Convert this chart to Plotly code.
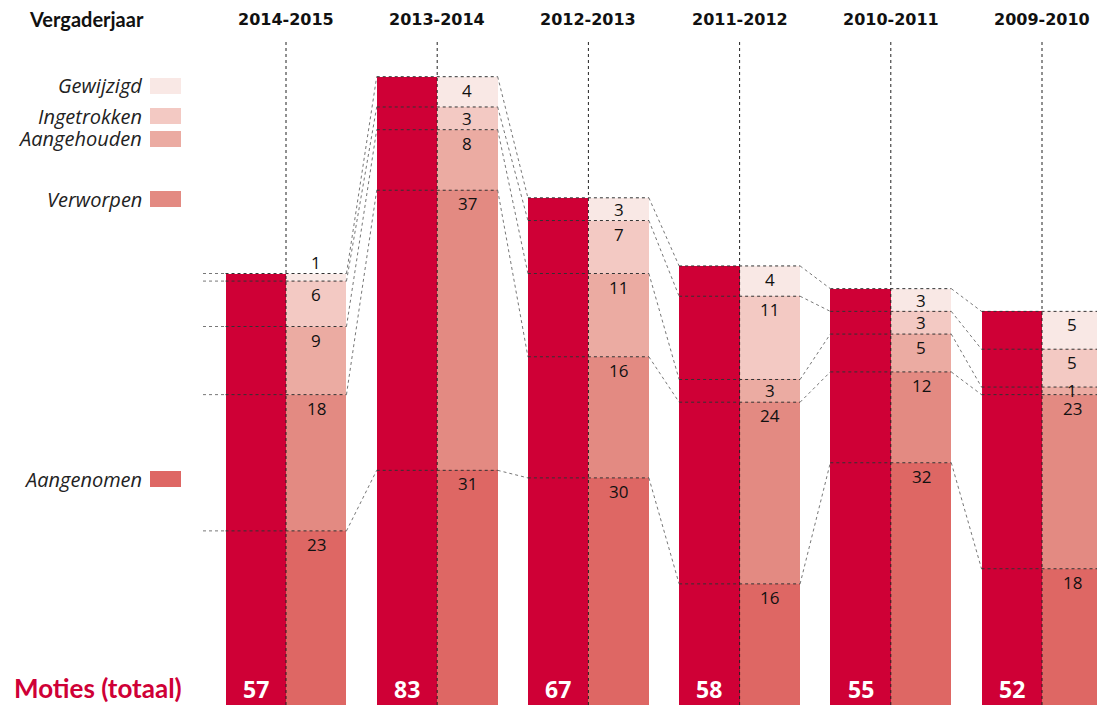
import plotly.graph_objects as go
import numpy as np

# ---------------- data ----------------
years = ["2014-2015", "2013-2014", "2012-2013", "2011-2012", "2010-2011", "2009-2010"]
totaal = [57, 83, 67, 58, 55, 52]
aangenomen = [23, 31, 30, 16, 32, 18]
verworpen = [18, 37, 16, 24, 12, 23]
aangehouden = [9, 8, 11, 3, 5, 1]
ingetrokken = [6, 3, 7, 11, 3, 5]
gewijzigd = [1, 4, 3, 4, 3, 5]
categories = ["Aangenomen", "Verworpen", "Aangehouden", "Ingetrokken", "Gewijzigd"]
series = [aangenomen, verworpen, aangehouden, ingetrokken, gewijzigd]

# ---------------- style ----------------
W, H = 1097, 705
RED = "#CF0036"
seg_colors = ["#DE6764", "#E38A82", "#EBABA2", "#F3C9C3", "#F9E8E5"]
GROUP_PX = 151.2
X0_PX = 286
PX_PER_UNIT = 7.57
BW = 0.4
XR = [-X0_PX / GROUP_PX, (W - X0_PX) / GROUP_PX]
YR = [0, H / PX_PER_UNIT]

def px_x(p):
    return p / W

def px_y(p):
    return 1 - p / H

n = len(years)
xs = np.arange(n)

fig = go.Figure()
fig.add_trace(go.Bar(x=xs - BW / 2, y=totaal, width=BW, marker=dict(color=RED, line=dict(width=0)),
                     hoverinfo="skip", showlegend=False))
for cat, vals, col in zip(categories, series, seg_colors):
    fig.add_trace(go.Bar(x=xs + BW / 2, y=vals, width=BW, name=cat,
                         marker=dict(color=col, line=dict(width=0)),
                         hoverinfo="skip", showlegend=False))

shapes = []
annotations = []
cums = [np.cumsum([s[i] for s in series]) for i in range(n)]

DASH_DARK = "3px,3px"
for i in range(n):
    # vertical dashed centre line
    shapes.append(dict(type="line", xref="x", yref="y", x0=i, x1=i, y0=0,
                       y1=(H - 40) / PX_PER_UNIT, layer="above",
                       line=dict(color="#222", width=1, dash=DASH_DARK)))
    # horizontal dashed boundaries across both bars
    for c in cums[i]:
        shapes.append(dict(type="line", xref="x", yref="y", x0=i - BW, x1=i + BW, y0=c, y1=c,
                           layer="above", line=dict(color="#333", width=1, dash=DASH_DARK)))
    # connectors to next group
    if i < n - 1:
        for c0, c1 in zip(cums[i], cums[i + 1]):
            shapes.append(dict(type="line", xref="x", yref="y", x0=i + BW, x1=i + 1 - BW,
                               y0=c0, y1=c1, layer="above",
                               line=dict(color="#777", width=1, dash=DASH_DARK)))
    # segment labels
    bottom = 0
    for k, s in enumerate(series):
        v = s[i]
        top = bottom + v
        if k == len(series) - 1 and v < 2:
            ly = top + 1.5
        else:
            ly = top - min(1.8, v / 2)
        annotations.append(dict(x=i + BW / 2, y=ly, xref="x", yref="y", text=str(v),
                                showarrow=False, yanchor="middle",
                                font=dict(family="Open Sans", size=17, color="#111")))
        bottom = top
    # total label
    annotations.append(dict(x=i - BW / 2, y=px_y(689), xref="x", yref="paper", text="<b>%d</b>" % totaal[i],
                            showarrow=False, yanchor="middle",
                            font=dict(family="Open Sans", size=23, color="white")))
    # header
    annotations.append(dict(x=i, y=px_y(19), xref="x", yref="paper", text="<b>%s</b>" % years[i],
                            showarrow=False, yanchor="middle",
                            font=dict(family="DejaVu Sans", size=16, color="#111")))

# left stubs for first group
for c in cums[0]:
    shapes.append(dict(type="line", xref="x", yref="y", x0=(203 - X0_PX) / GROUP_PX, x1=-BW,
                       y0=c, y1=c, layer="above",
                       line=dict(color="#777", width=1, dash=DASH_DARK)))

# legend (swatches + italic labels)
legend_tops = {"Gewijzigd": 78, "Ingetrokken": 108, "Aangehouden": 131, "Verworpen": 191, "Aangenomen": 471}
for cat, col in zip(categories, seg_colors):
    t = legend_tops[cat]
    shapes.append(dict(type="rect", xref="paper", yref="paper", x0=px_x(150), x1=px_x(181),
                       y0=px_y(t + 16), y1=px_y(t), fillcolor=col, line=dict(width=0)))
    annotations.append(dict(x=px_x(144), y=px_y(t + 8), xref="paper", yref="paper",
                            text="<i>%s</i>" % cat, showarrow=False, xanchor="right", yanchor="middle",
                            font=dict(family="Open Sans", size=20, color="#222")))

annotations.append(dict(x=px_x(27), y=px_y(19), xref="paper", yref="paper", text="<b>Vergaderjaar</b>",
                        showarrow=False, xanchor="left", yanchor="middle",
                        font=dict(family="Lato", size=20, color="#111")))
annotations.append(dict(x=px_x(12), y=px_y(688), xref="paper", yref="paper", text="<b>Moties (totaal)</b>",
                        showarrow=False, xanchor="left", yanchor="middle",
                        font=dict(family="Lato", size=26, color=RED)))

fig.update_layout(
    width=W, height=H, margin=dict(l=0, r=0, t=0, b=0),
    paper_bgcolor="white", plot_bgcolor="white",
    barmode="stack", bargap=0,
    xaxis=dict(range=XR, visible=False, fixedrange=True),
    yaxis=dict(range=YR, visible=False, fixedrange=True),
    shapes=shapes, annotations=annotations, showlegend=False,
)

fig.write_html("out.html", config={"displayModeBar": False},
               post_script="document.body.style.margin='0';document.body.style.overflow='hidden';")
